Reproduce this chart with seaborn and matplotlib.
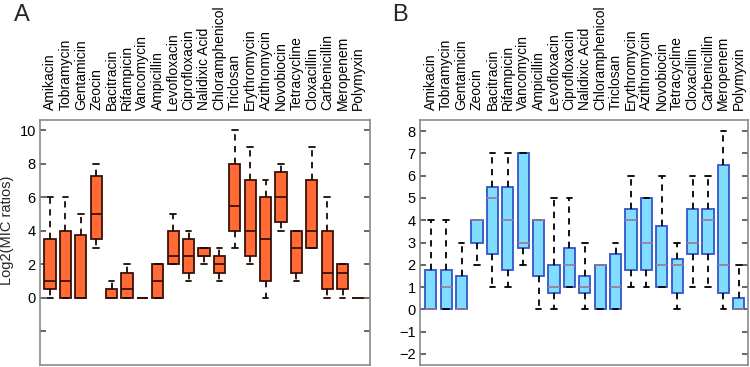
import numpy as np
import pandas as pd
import matplotlib
matplotlib.use("Agg")
import matplotlib.pyplot as plt
import seaborn as sns

drugs = ["Amikacin", "Tobramycin", "Gentamicin", "Zeocin", "Bacitracin", "Rifampicin",
         "Vancomycin", "Ampicillin", "Levofloxacin", "Ciprofloxacin", "Nalidixic Acid",
         "Chloramphenicol", "Triclosan", "Erythromycin", "Azithromycin", "Novobiocin",
         "Tetracycline", "Cloxacillin", "Carbenicillin", "Meropenem", "Polymyxin"]

# Panel A: five-number summaries (whisker low, Q1, median, Q3, whisker high)
a_lo  = [0, 0, 0, 3, 0, 0, 0, 0, 2, 1, 2, 1, 3, 2, 0, 4, 1, 3, 0, 0, 0]
a_q1  = [0.5, 0, 0, 3.5, 0, 0, 0, 0, 2, 1.5, 2.5, 1.5, 4, 2.5, 1, 4.5, 1.5, 3, 0.5, 0.5, 0]
a_med = [1, 1, 0, 5, 0, 0.5, 0, 1, 2.5, 2.5, 2.5, 2, 5.5, 4, 3.5, 6, 3, 4, 1.5, 1.5, 0]
a_q3  = [3.5, 4, 3.75, 7.25, 0.5, 1.5, 0, 2, 4, 3.5, 3, 2.5, 8, 7, 6, 7.5, 4, 7, 4, 2, 0]
a_hi  = [6, 6, 5, 8, 1, 2, 0, 2, 5, 4, 3, 3, 10, 9, 7, 8, 4, 9, 6, 2, 0]

# Panel B
b_lo  = [0, 0, 0, 2, 1, 1, 2, 0, 0, 1, 0, 0, 0, 1, 1, 1, 0, 1, 1, 0, 0]
b_q1  = [0, 0, 0, 3, 2.5, 1.75, 2.75, 1.5, 0.75, 1, 0.75, 0, 0, 1.75, 1.75, 1, 0.75, 2.5, 2.5, 0.75, 0]
b_med = [0, 1, 0, 4, 5, 4, 3, 4, 1, 2, 1, 2, 1, 4, 3, 2, 2, 3, 4, 2, 0]
b_q3  = [1.75, 1.75, 1.5, 4, 5.5, 5.5, 7, 4, 2, 2.75, 1.5, 2, 2.5, 4.5, 5, 3.75, 2.25, 4.5, 4.5, 6.5, 0.5]
b_hi  = [4, 4, 3, 4, 7, 7, 7, 4, 5, 5, 3, 2, 3, 6, 5, 6, 3, 6, 6, 8, 2]


def to_long(lo, q1, med, q3, hi):
    rows = []
    for d, *vals in zip(drugs, lo, q1, med, q3, hi):
        for v in vals:
            rows.append((d, v))
    return pd.DataFrame(rows, columns=["drug", "value"])


dfA = to_long(a_lo, a_q1, a_med, a_q3, a_hi)
dfB = to_long(b_lo, b_q1, b_med, b_q3, b_hi)

sns.set_theme(style="white")
plt.rcParams["font.family"] = ["Liberation Sans", "DejaVu Sans"]

W, H = 750, 367
fig = plt.figure(figsize=(7.5, 3.67), dpi=100)
axA = fig.add_axes([40 / W, 2 / H, 330 / W, 245 / H])
axB = fig.add_axes([420 / W, 2 / H, 328 / W, 245 / H])

dash = (0, (3.5, 3))
sns.boxplot(data=dfA, x="drug", y="value", order=drugs, whis=(0, 100), width=0.72,
            color="#FF6A35", saturation=1, linecolor="#3a1208", linewidth=1.3,
            showfliers=False,
            whiskerprops=dict(linestyle=dash, color="#1a0a05"),
            capprops=dict(color="#1a0a05"),
            medianprops=dict(color="#3a1208", linewidth=1.3),
            ax=axA)
sns.boxplot(data=dfB, x="drug", y="value", order=drugs, whis=(0, 100), width=0.72,
            color="#80DDFF", saturation=1, linecolor="#3355C8", linewidth=1.3,
            showfliers=False,
            whiskerprops=dict(linestyle=dash, color="black"),
            capprops=dict(color="black"),
            medianprops=dict(color="#9A7E9A", linewidth=1.3),
            ax=axB)

for ax, ylim, yt, ylab in [
    (axA, (-4, 10.6), [-2, 0, 2, 4, 6, 8, 10], ["", "0", "2", "4", "6", "8", "10"]),
    (axB, (-2.5, 8.5), list(range(-2, 9)), [str(v) if v >= 0 else "\u2212" + str(-v) for v in range(-2, 9)]),
]:
    ax.set_ylim(*ylim)
    ax.set_yticks(yt)
    ax.set_yticklabels(ylab)
    ax.xaxis.tick_top()
    ax.set_xlabel("")
    ax.set_ylabel("")
    ax.tick_params(axis="x", top=True, bottom=False, length=0, labelrotation=90,
                   labelsize=10, pad=7, labelcolor="black")
    ax.tick_params(axis="y", direction="in", left=True, right=True, length=4,
                   color="#555555", labelsize=10.5, labelcolor="black", pad=3)
    for s in ax.spines.values():
        s.set_color("#8a8a8a")
        s.set_linewidth(1.2)

axA.set_xlim(-0.65, 20.78)
axB.set_xlim(-0.7, 20.6)

axA.set_ylabel("Log2(MIC ratios)", fontsize=10.5)
axA.yaxis.set_label_coords(-0.08, 0.55)

fig.text(14 / W, 1 - 21 / H, "A", fontsize=17)
fig.text(392 / W, 1 - 21 / H, "B", fontsize=17)

fig.savefig("out.png", dpi=100)
